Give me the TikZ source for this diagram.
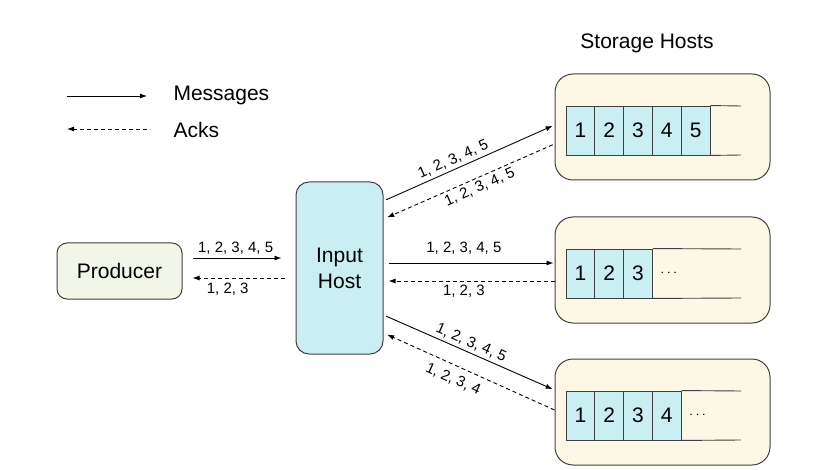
\documentclass[tikz,border=0pt]{standalone}
\usepackage{fontspec}
\setmainfont{Liberation Sans}
\usetikzlibrary{positioning,arrows.meta}

\definecolor{prodfill}{HTML}{F2F6E8}
\definecolor{hostfill}{HTML}{C9EFF3}
\definecolor{storfill}{HTML}{FDF7E6}
\definecolor{edgegray}{HTML}{404040}

\begin{document}
\begin{tikzpicture}[
	  x=1pt, y=-1pt,
	  %style for arrows
	  msg/.style={line width=0.9pt, ->, >={Latex[length=7pt,width=5pt]}},
	  ack/.style={line width=0.9pt, dash pattern=on 4pt off 3pt, ->, >={Latex[length=7pt,width=5pt]}},
	  % labels on arrows
	  lbl/.style={font=\fontsize{15}{17}\selectfont, inner sep=3pt},
	  % style for the producer box
	  prod/.style={rectangle, rounded corners=10pt, fill=prodfill, draw=edgegray, line width=1pt,
	    minimum width=125pt, minimum height=56pt, font=\fontsize{21}{26}\selectfont},
	  % style for the input host box
	  inbox/.style={rectangle, rounded corners=13pt, fill=hostfill, draw=edgegray, line width=1pt,
	    minimum width=87pt, minimum height=172pt, align=center, font=\fontsize{21}{26}\selectfont},
	  % style for the storage host boxes
	  stor/.style={rectangle, rounded corners=18pt, fill=storfill, draw=edgegray, line width=1pt,
	    minimum width=215pt, minimum height=106pt},
	  % queue cells
	  cell/.style={rectangle, fill=hostfill, draw=edgegray, line width=0.9pt, inner sep=0pt,
	    minimum width=28.8pt, minimum height=49pt, font=\fontsize{21}{26}\selectfont},
	  qline/.style={line width=0.9pt, draw=edgegray}]

      \useasboundingbox (0,0) rectangle (829,470);

      % legend
      \node[anchor=west, font=\fontsize{21}{26}\selectfont] (msgs) at (170,95) {Messages};
      \node[anchor=west, font=\fontsize{21}{26}\selectfont] (acks) at (170,130) {Acks};
      \coordinate (msgstart) at (67,96);
      \coordinate (ackend) at (67,129);
      \draw[msg] (msgstart) -- (msgstart -| 147,0);
      \draw[ack] (ackend -| 147,0) -- (ackend);

      % main boxes
      \node[prod] (producer) at (119.5,271) {Producer};
      \node[inbox] (inhost) at (339.5,268) {Input\\Host};
      \node[font=\fontsize{21}{26}\selectfont] (storlabel) at (647,43) {Storage Hosts};

      % storage hosts with their queues
      \foreach \h/\yc/\n in {1/127/5, 2/270/3, 3/412/4} {
        \node[stor] (sh\h) at (662.5,\yc) {};
        \foreach \c in {1,...,\n}
          \node[cell] (q\h c\c) at ({566+28.8*(\c-0.5)},{\yc+3.5}) {\c};
        \draw[qline] (q\h c\n.north east) -- ({741},{\yc-21});
        \draw[qline] (q\h c\n.south east) -- ({741},{\yc+28});
      }
      \node[right=4pt of q2c3, font=\fontsize{15}{17}\selectfont] (dots2) {$\cdots$};
      \node[right=4pt of q3c4, font=\fontsize{15}{17}\selectfont] (dots3) {$\cdots$};

      % producer <-> input host
      \draw[msg, shorten <=10pt, shorten >=14pt] ([yshift=13pt]producer.east) -- ([yshift=10pt]inhost.west)
        node[lbl, above, pos=0.47] {1, 2, 3, 4, 5};
      \draw[ack, shorten <=11pt, shorten >=10pt] ([yshift=-10pt]inhost.west) -- ([yshift=-7pt]producer.east)
        node[lbl, below=2pt, pos=0.6] {1, 2, 3};

      % input host <-> storage host 1
      \draw[msg, shorten <=3pt, shorten >=2pt] ([yshift=67pt]inhost.east) -- ([yshift=2pt]sh1.west)
        node[lbl, above, sloped, pos=0.43] {1, 2, 3, 4, 5};
      \draw[ack, shorten <=2pt, shorten >=4pt] ([yshift=-17pt]sh1.west) -- ([yshift=49pt]inhost.east)
        node[lbl, below, sloped, pos=0.46] {1, 2, 3, 4, 5};

      % input host <-> storage host 2
      \draw[msg, shorten <=5pt, shorten >=1pt] ([yshift=5pt]inhost.east) -- ([yshift=7pt]sh2.west)
        node[lbl, above=5pt, pos=0.47] {1, 2, 3, 4, 5};
      \draw[ack, shorten >=5pt] ([yshift=-11pt]sh2.west) -- ([yshift=-13pt]inhost.east)
        node[lbl, below=1pt, pos=0.53] {1, 2, 3};

      % input host <-> storage host 3
      \draw[msg, shorten <=3pt, shorten >=2pt] ([yshift=-47pt]inhost.east) -- ([yshift=22pt]sh3.west)
        node[lbl, above, sloped, pos=0.49] {1, 2, 3, 4, 5};
      \draw[ack, shorten >=4pt] ([yshift=2pt]sh3.west) -- ([yshift=-65pt]inhost.east)
        node[lbl, below=4pt, sloped, pos=0.56] {1, 2, 3, 4};

\end{tikzpicture}
\end{document}
